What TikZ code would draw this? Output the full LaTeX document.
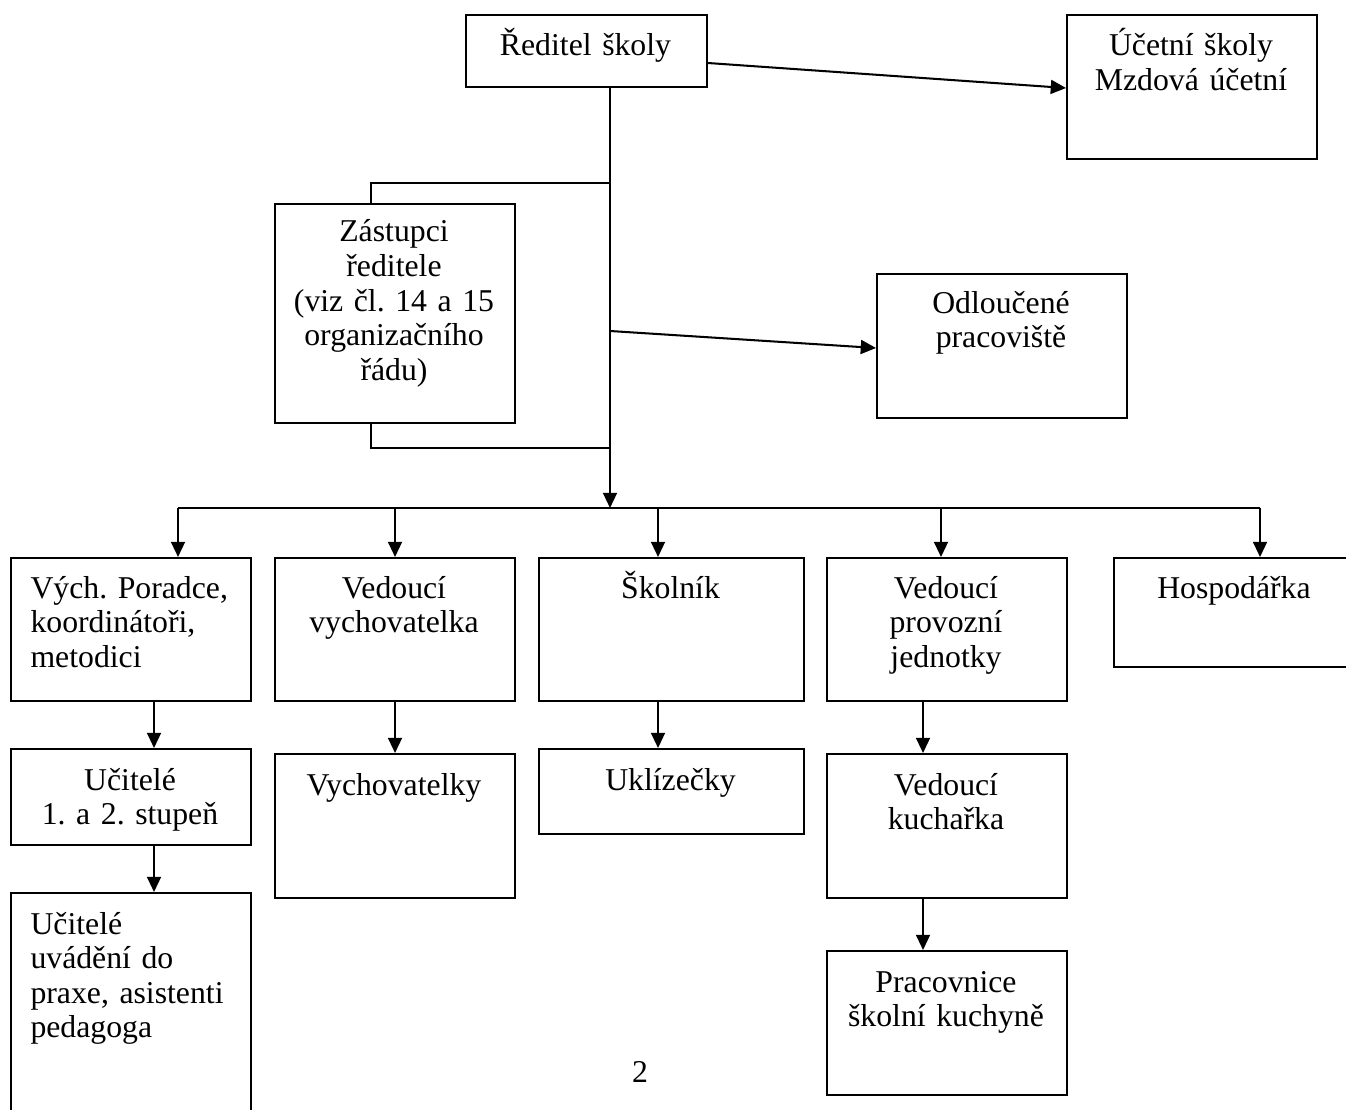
\documentclass[tikz,border=0pt]{standalone}
\usepackage{fontspec}
\setmainfont{Liberation Serif}
\usetikzlibrary{arrows.meta}
\frenchspacing

\begin{document}
\begin{tikzpicture}[
    box/.style={draw, line width=0.8pt, anchor=north west, inner sep=0pt},
    txt/.style={anchor=base, inner sep=0pt, align=center, text width=225*\x,
      font=\fontsize{12.5pt}{13.6pt}\selectfont},
    txtl/.style={txt, anchor=base west, align=left, text width=215*\x},
    link/.style={line width=0.8pt},
    arr/.style={link, -{Triangle[length=6pt, width=5.5pt]}}
  ]
    \def\x{0.3937pt}
    \def\y{-0.3937pt}
    \useasboundingbox (0,0) rectangle (1346*\x, 1110*\y);
    % boxes
    \node[box, minimum width=241*\x, minimum height=72*\x] (A0_0) at (465*\x, 14*\y) {};
    \node[box, minimum width=250*\x, minimum height=144*\x] (A0_1) at (1066*\x, 14*\y) {};
    \node[box, minimum width=240*\x, minimum height=219*\x] (A1_0) at (274*\x, 203*\y) {};
    \node[box, minimum width=250*\x, minimum height=144*\x] (A1_1) at (876*\x, 273*\y) {};
    \node[box, minimum width=240*\x, minimum height=143*\x] (A2_0) at (10*\x, 557*\y) {};
    \node[box, minimum width=240*\x, minimum height=143*\x] (A2_1) at (274*\x, 557*\y) {};
    \node[box, minimum width=265*\x, minimum height=143*\x] (A2_2) at (538*\x, 557*\y) {};
    \node[box, minimum width=240*\x, minimum height=143*\x] (A2_3) at (826*\x, 557*\y) {};
    \node[box, minimum width=240*\x, minimum height=109*\x] (A2_4) at (1113*\x, 557*\y) {};
    \node[box, minimum width=240*\x, minimum height=96*\x] (A3_0) at (10*\x, 748*\y) {};
    \node[box, minimum width=240*\x, minimum height=144*\x] (A3_1) at (274*\x, 753*\y) {};
    \node[box, minimum width=265*\x, minimum height=85*\x] (A3_2) at (538*\x, 748*\y) {};
    \node[box, minimum width=240*\x, minimum height=144*\x] (A3_3) at (826*\x, 753*\y) {};
    \node[box, minimum width=240*\x, minimum height=240*\x] (A4_0) at (10*\x, 892*\y) {};
    \node[box, minimum width=240*\x, minimum height=144*\x] (A4_3) at (826*\x, 950*\y) {};
    % texts
    \node[txt] (T0_0) at (585.5*\x, 56*\y) {Ředitel školy};
    \node[txt] (T0_1) at (1191*\x, 56*\y) {Účetní školy\\Mzdová účetní};
    \node[txt] (T1_0) at (394*\x, 242*\y) {Zástupci\\ředitele\\(viz čl. 14 a 15\\organizačního\\řádu)};
    \node[txt] (T1_1) at (1001*\x, 313*\y) {Odloučené\\pracoviště};
    \node[txtl] (T2_0) at (30*\x, 598*\y) {Vých. Poradce,\\koordinátoři,\\metodici};
    \node[txt] (T2_1) at (394*\x, 598*\y) {Vedoucí\\vychovatelka};
    \node[txt] (T2_2) at (670.5*\x, 598*\y) {Školník};
    \node[txt] (T2_3) at (946*\x, 598*\y) {Vedoucí\\provozní\\jednotky};
    \node[txt] (T2_4) at (1234*\x, 598*\y) {Hospodářka};
    \node[txt] (T3_0) at (130*\x, 790*\y) {Učitelé\\1. a 2. stupeň};
    \node[txt] (T3_1) at (394*\x, 795*\y) {Vychovatelky};
    \node[txt] (T3_2) at (670.5*\x, 790*\y) {Uklízečky};
    \node[txt] (T3_3) at (946*\x, 795*\y) {Vedoucí\\kuchařka};
    \node[txtl] (T4_0) at (30*\x, 934*\y) {Učitelé\\uvádění do\\praxe, asistenti\\pedagoga};
    \node[txt] (T4_3) at (946*\x, 992*\y) {Pracovnice\\školní kuchyně};
    \node[txt] (P) at (640*\x, 1082*\y) {2};
    % junctions on the trunk
    \coordinate (J1) at (610*\x, 183*\y);
    \coordinate (J2) at (610*\x, 331*\y);
    \coordinate (J3) at (610*\x, 448*\y);
    \coordinate (B) at (610*\x, 508*\y);
    % connectors
    \path ([yshift=-12*\x]A0_0.east) edge [arr] ([yshift=-1*\x]A0_1.west);
    \path (A0_0.south -| B) edge [arr] (B);
    \draw [link] (J1) -| ([xshift=-24*\x]A1_0.north);
    \draw [link] ([xshift=-24*\x]A1_0.south) |- (J3);
    \path (J2) edge [arr] ([yshift=-2*\x]A1_1.west);
    \draw [link] ([xshift=47*\x]A2_0.north |- B) -- ([xshift=26*\x]A2_4.north |- B);
    \path ([xshift=47*\x]A2_0.north |- B) edge [arr] ([xshift=47*\x]A2_0.north);
    \path (A2_1.north |- B) edge [arr] (A2_1.north);
    \path ([xshift=-13.5*\x]A2_2.north |- B) edge [arr] ([xshift=-13.5*\x]A2_2.north);
    \path ([xshift=-6*\x]A2_3.north |- B) edge [arr] ([xshift=-6*\x]A2_3.north);
    \path ([xshift=26*\x]A2_4.north |- B) edge [arr] ([xshift=26*\x]A2_4.north);
    \path ([xshift=23*\x]A2_0.south) edge [arr] ([xshift=23*\x]A3_0.north);
    \path ([xshift=23*\x]A3_0.south) edge [arr] ([xshift=23*\x]A4_0.north);
    \path (A2_1.south) edge [arr] (A3_1.north);
    \path ([xshift=-13.5*\x]A2_2.south) edge [arr] ([xshift=-13.5*\x]A3_2.north);
    \path ([xshift=-24*\x]A2_3.south) edge [arr] ([xshift=-24*\x]A3_3.north);
    \path ([xshift=-24*\x]A3_3.south) edge [arr] ([xshift=-24*\x]A4_3.north);
  \end{tikzpicture}
\end{document}
